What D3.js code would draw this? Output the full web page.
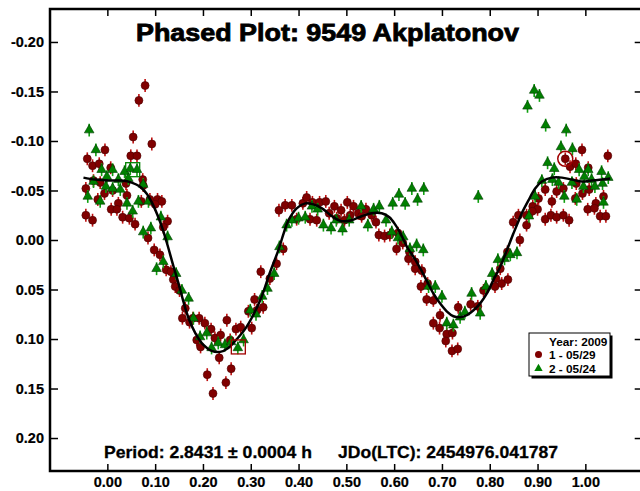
<!DOCTYPE html>
<html>
<head>
<meta charset="utf-8">
<script src="https://cdn.jsdelivr.net/npm/d3@7"></script>
<style>
  body { margin: 0; background: #fff; }
  svg { display: block; font-family: 'Liberation Sans', Arial, sans-serif; font-weight: bold; }
</style>
</head>
<body>
<svg id="chart" width="640" height="491"></svg>
<script>
// DATA (phase, reduced magnitude)
const xTicks = [0, 0.1, 0.2, 0.3, 0.4, 0.5, 0.6, 0.7, 0.8, 0.9, 1.0];
const yTicks = [-0.20, -0.15, -0.10, -0.05, 0, 0.05, 0.10, 0.15, 0.20];

// session 1 - 05/29
const session1 = [
  [0.079,-0.156],[0.066,-0.141],[0.054,-0.104],[0.093,-0.097],[-0.005,-0.091],[0.049,-0.085],[0.062,-0.085],
  [-0.042,-0.082],[-0.031,-0.075],[-0.017,-0.077],[0.007,-0.073],[-0.029,-0.060],[-0.015,-0.058],[-0.045,-0.052],
  [-0.006,-0.047],[0.011,-0.050],[0.041,-0.045],[0.074,-0.061],[0.075,-0.055],[-0.020,-0.041],[0.023,-0.037],
  [0.008,-0.031],[0.020,-0.031],[0.071,-0.039],[0.089,-0.041],[0.105,-0.041],[0.114,-0.039],[0.100,-0.036],
  [-0.045,-0.025],[-0.031,-0.020],[0.032,-0.023],[0.046,-0.022],[0.058,-0.016],[0.126,-0.019],[0.117,-0.013],
  [0.085,-0.002],[0.039,-0.057],
  [0.098,0.010],[0.110,0.015],[0.123,0.030],[0.133,0.032],[0.138,0.040],[0.142,0.047],[0.151,0.051],[0.163,0.069],
  [0.157,0.079],[0.172,0.083],[0.179,0.079],[0.192,0.079],[0.204,0.084],[0.217,0.090],[0.187,0.101],[0.195,0.108],
  [0.225,0.099],[0.237,0.096],[0.250,0.081],[0.234,0.119],[0.259,0.130],[0.209,0.136],[0.248,0.144],[0.221,0.155],
  [0.269,0.090],[0.279,0.088],[0.302,0.089],[0.308,0.060],[0.326,0.068],[0.295,0.072],[0.313,0.071],[0.321,0.032],
  [0.354,0.024],[0.340,0.039],[0.257,0.101],
  [0.368,0.009],[0.359,-0.030],[0.372,-0.035],[0.386,-0.035],[0.409,-0.037],[0.417,-0.043],[0.429,-0.038],
  [0.444,-0.038],[0.457,-0.039],[0.396,-0.021],[0.424,-0.021],[0.438,-0.020],[0.475,-0.034],[0.489,-0.030],
  [0.464,-0.027],[0.480,-0.022],[0.502,-0.038],[0.515,-0.034],[0.508,-0.025],[0.525,-0.027],[0.532,-0.024],
  [0.541,-0.031],[0.496,-0.020],[0.553,-0.025],[0.562,-0.018],[0.568,-0.005],[0.580,-0.004],[0.591,-0.005],
  [0.608,-0.007],[0.618,0.003],[0.605,0.009],[0.630,0.019],[0.644,0.029],
  [0.632,0.012],[0.644,0.022],[0.658,0.031],[0.656,0.047],[0.670,0.044],[0.668,0.060],[0.682,0.061],[0.696,0.076],
  [0.682,0.084],[0.695,0.089],[0.710,0.095],[0.722,0.094],[0.708,0.102],[0.721,0.112],[0.733,0.110],[0.734,0.068],
  [0.760,0.065],[0.775,0.067],[0.787,0.051],[0.811,0.047],[0.825,0.044],[0.838,0.040],[0.813,0.039],[0.822,0.029],
  [0.837,0.012],[0.849,-0.018],[0.860,-0.025],[0.863,0.000],
  [0.958,-0.082],[0.993,-0.091],[1.047,-0.085],[0.968,-0.074],[0.980,-0.077],[1.006,-0.073],[0.916,-0.051],
  [0.954,-0.052],[0.940,-0.049],[0.981,-0.057],[1.008,-0.051],[0.994,-0.047],[1.038,-0.044],[0.902,-0.042],
  [0.930,-0.039],[0.979,-0.042],[1.022,-0.037],[0.890,-0.034],[0.900,-0.031],[1.005,-0.031],[1.019,-0.032],
  [0.877,-0.025],[0.889,-0.029],[0.916,-0.021],[0.928,-0.025],[0.940,-0.023],[0.954,-0.025],[0.966,-0.020],
  [1.031,-0.024],[1.043,-0.024],[0.877,-0.015]
];

// session 2 - 05/24
const session2 = [
  [-0.038,-0.111],[-0.024,-0.091],[-0.012,-0.071],[0.011,-0.071],[0.036,-0.069],[0.048,-0.072],[0.062,-0.071],
  [-0.001,-0.064],[0.023,-0.061],[0.044,-0.062],[-0.029,-0.059],[-0.041,-0.044],[-0.015,-0.039],[-0.003,-0.054],
  [0.011,-0.052],[0.027,-0.051],[0.075,-0.056],[0.041,-0.037],[0.065,-0.039],[0.086,-0.039],[0.053,-0.029],
  [0.112,-0.023],[0.091,-0.012],[0.075,-0.008],[0.126,-0.003],
  [0.103,0.029],[0.117,0.022],[0.144,0.034],[0.156,0.051],[0.170,0.059],[0.180,0.079],[0.194,0.098],[0.208,0.094],
  [0.218,0.109],[0.232,0.104],[0.246,0.106],[0.259,0.103],[0.273,0.109],[0.285,0.101],[0.299,0.071],[0.311,0.075],
  [0.324,0.057],[0.335,0.049],[0.349,0.034],[0.360,0.007],
  [0.375,-0.015],[0.386,-0.020],[0.400,-0.022],[0.414,-0.023],[0.428,-0.034],[0.440,-0.031],[0.452,-0.015],
  [0.468,-0.012],[0.479,-0.020],[0.492,-0.011],[0.506,-0.020],[0.531,-0.034],[0.545,-0.015],[0.557,-0.031],
  [0.569,-0.034],[0.583,-0.020],[0.597,-0.037],[0.610,-0.046],[0.623,-0.037],[0.637,-0.052],[0.649,-0.041],
  [0.662,-0.052],[0.595,-0.008],[0.608,-0.002],[0.619,-0.003],[0.633,0.009],[0.647,0.005],[0.661,0.010],
  [0.776,-0.044],[0.672,0.047],[0.686,0.047],[0.700,0.057],[0.710,0.084],[0.724,0.086],[0.738,0.078],[0.748,0.073],
  [0.762,0.054],[0.780,0.074],[0.792,0.047],[0.805,0.034],[0.817,0.020],[0.831,0.019],[0.843,0.015],[0.857,0.013],
  [0.893,-0.151],[0.904,-0.146],[0.879,-0.135],[0.917,-0.116],[0.960,-0.111],[0.949,-0.094],[0.973,-0.092],
  [0.921,-0.078],[0.935,-0.072],[0.987,-0.071],[1.006,-0.071],[1.034,-0.069],[1.048,-0.063],[0.909,-0.060],
  [0.931,-0.061],[0.944,-0.058],[0.972,-0.058],[0.998,-0.064],[1.013,-0.061],[0.996,-0.054],[1.020,-0.054],
  [1.036,-0.057],[0.895,-0.044],[0.956,-0.044],[0.982,-0.041],[1.038,-0.038],[0.882,-0.024]
];

const errBar = 0.0065;

// Fourier fit
const fitCurve = [
  [-0.050,-0.063],[-0.026,-0.061],[0.002,-0.060],[0.030,-0.060],[0.051,-0.058],[0.068,-0.054],[0.082,-0.047],
  [0.094,-0.037],[0.105,-0.025],[0.115,-0.012],[0.124,0.002],[0.138,0.026],[0.149,0.044],[0.159,0.062],
  [0.170,0.079],[0.184,0.094],[0.201,0.106],[0.218,0.112],[0.236,0.113],[0.253,0.109],[0.271,0.100],
  [0.288,0.090],[0.305,0.076],[0.323,0.057],[0.340,0.033],[0.358,0.010],[0.369,-0.007],[0.379,-0.020],
  [0.396,-0.032],[0.414,-0.037],[0.431,-0.036],[0.449,-0.032],[0.470,-0.024],[0.490,-0.019],[0.511,-0.020],
  [0.532,-0.024],[0.553,-0.027],[0.574,-0.027],[0.590,-0.023],[0.603,-0.015],[0.615,-0.005],[0.628,0.008],
  [0.642,0.018],[0.655,0.029],[0.668,0.041],[0.682,0.054],[0.696,0.064],[0.710,0.072],[0.724,0.077],
  [0.738,0.078],[0.752,0.076],[0.766,0.071],[0.780,0.064],[0.794,0.054],[0.808,0.040],[0.822,0.027],
  [0.836,0.010],[0.849,-0.006],[0.860,-0.019],[0.867,-0.027],[0.881,-0.040],[0.895,-0.052],[0.909,-0.059],
  [0.930,-0.063],[0.951,-0.063],[0.972,-0.061],[0.993,-0.059],[1.013,-0.060],[1.034,-0.061],[1.052,-0.062]
];

// marked reference points: [phase, mag, kind]
const highlights = [
  [0.053, -0.071, 'squareGreen'],
  [0.274, 0.108, 'squareRed'],
  [0.958, -0.082, 'ringRed']
];

// SETUP
const svg = d3.select('#chart');
const frame = { left: 50, top: 9, right: 642.7, bottom: 471 };

const x = d3.scaleLinear().domain([-0.12, 1.12]).range([frame.left, frame.right]);
const y = d3.scaleLinear().domain([-0.2333, 0.2333]).range([frame.top, frame.bottom]);

const fmt = d => d.toFixed(2);
const red = '#800000', green = '#008000';

// AXES (ticks inward on all four sides)
function styleAxis(g) {
  g.select('.domain').remove();
  g.attr('font-size', 14.5).attr('font-family', "'Liberation Sans', Arial, sans-serif").attr('font-weight', 'bold');
  g.selectAll('.tick line').attr('stroke', '#000').attr('stroke-width', 1.5);
  g.selectAll('.tick text').attr('fill', '#000').attr('stroke', '#000').attr('stroke-width', 0.2);
}

svg.append('g')
  .attr('transform', 'translate(0,' + frame.bottom + ')')
  .call(d3.axisBottom(x).tickValues(xTicks).tickFormat(fmt).tickSize(-7).tickPadding(6))
  .call(styleAxis);
svg.append('g')
  .attr('transform', 'translate(0,' + frame.top + ')')
  .call(d3.axisTop(x).tickValues(xTicks).tickFormat('').tickSize(-7))
  .call(styleAxis);
svg.append('g')
  .attr('transform', 'translate(' + frame.left + ',0)')
  .call(d3.axisLeft(y).tickValues(yTicks).tickFormat(fmt).tickSize(-8).tickPadding(6))
  .call(styleAxis);
svg.append('g')
  .attr('transform', 'translate(' + frame.right + ',0)')
  .call(d3.axisRight(y).tickValues(yTicks).tickFormat('').tickSize(-8))
  .call(styleAxis);

svg.append('rect')
  .attr('x', frame.left).attr('y', frame.top)
  .attr('width', frame.right - frame.left).attr('height', frame.bottom - frame.top)
  .attr('fill', 'none').attr('stroke', '#000').attr('stroke-width', 2.5);

// TITLE + NOTES
svg.append('text')
  .attr('x', 136).attr('y', 41)
  .attr('font-size', 23)
  .attr('stroke', '#000').attr('stroke-width', 0.8)
  .attr('textLength', 383).attr('lengthAdjust', 'spacingAndGlyphs')
  .text('Phased Plot: 9549 Akplatonov');

svg.append('text')
  .attr('x', 104).attr('y', 458)
  .attr('font-size', 16.5)
  .attr('stroke', '#000').attr('stroke-width', 0.3)
  .attr('textLength', 208).attr('lengthAdjust', 'spacingAndGlyphs')
  .text('Period: 2.8431 \u00b1 0.0004 h');

svg.append('text')
  .attr('x', 338).attr('y', 458)
  .attr('font-size', 16.5)
  .attr('stroke', '#000').attr('stroke-width', 0.3)
  .attr('textLength', 220).attr('lengthAdjust', 'spacingAndGlyphs')
  .text('JDo(LTC): 2454976.041787');

// POINTS
const plot = svg.append('g');

function errorBars(data, color) {
  plot.append('g').selectAll('line').data(data).enter().append('line')
    .attr('x1', d => x(d[0])).attr('x2', d => x(d[0]))
    .attr('y1', d => y(d[1] - errBar)).attr('y2', d => y(d[1] + errBar))
    .attr('stroke', color).attr('stroke-width', 1.6);
}

errorBars(session1, '#c01010');
plot.append('g').selectAll('circle').data(session1).enter().append('circle')
  .attr('cx', d => x(d[0])).attr('cy', d => y(d[1]))
  .attr('r', 4)
  .attr('fill', red).attr('stroke', '#4a0000').attr('stroke-width', 0.6);

errorBars(session2, '#10a010');
const tri = d3.symbol(d3.symbolTriangle).size(40);
plot.append('g').selectAll('path').data(session2).enter().append('path')
  .attr('d', tri)
  .attr('transform', d => 'translate(' + x(d[0]) + ',' + y(d[1]) + ')')
  .attr('fill', green).attr('stroke', '#003a00').attr('stroke-width', 0.6);

// FIT CURVE
const line = d3.line()
  .x(d => x(d[0])).y(d => y(d[1]))
  .curve(d3.curveCatmullRom.alpha(0.5));
svg.append('path')
  .datum(fitCurve)
  .attr('d', line)
  .attr('fill', 'none').attr('stroke', '#000').attr('stroke-width', 2.5);

// HIGHLIGHTS
highlights.forEach(h => {
  const cx = x(h[0]), cy = y(h[1]);
  if (h[2] === 'ringRed') {
    svg.append('circle').attr('cx', cx).attr('cy', cy).attr('r', 7.5)
      .attr('fill', 'none').attr('stroke', '#a00000').attr('stroke-width', 1.5);
  } else {
    svg.append('rect').attr('x', cx - 7).attr('y', cy - 7).attr('width', 14).attr('height', 14)
      .attr('fill', 'none')
      .attr('stroke', h[2] === 'squareGreen' ? green : '#a00000').attr('stroke-width', 1.3);
  }
});

// LEGEND
const lg = svg.append('g').attr('transform', 'translate(529,333)');
lg.append('rect').attr('x', 2.5).attr('y', 2.5).attr('width', 81).attr('height', 43).attr('fill', '#000');
lg.append('rect').attr('x', 0).attr('y', 0).attr('width', 81).attr('height', 43)
  .attr('fill', '#fff').attr('stroke', '#000').attr('stroke-width', 1);
lg.append('text').attr('x', 20).attr('y', 12.5).attr('font-size', 11.8).text('Year: 2009');
lg.append('circle').attr('cx', 9.5).attr('cy', 21.5).attr('r', 3.5).attr('fill', red);
lg.append('text').attr('x', 20).attr('y', 26).attr('font-size', 11.8).text('1 - 05/29');
lg.append('path').attr('d', d3.symbol(d3.symbolTriangle).size(30))
  .attr('transform', 'translate(9.5,35.5)').attr('fill', green);
lg.append('text').attr('x', 20).attr('y', 39.5).attr('font-size', 11.8).text('2 - 05/24');
</script>
</body>
</html>
